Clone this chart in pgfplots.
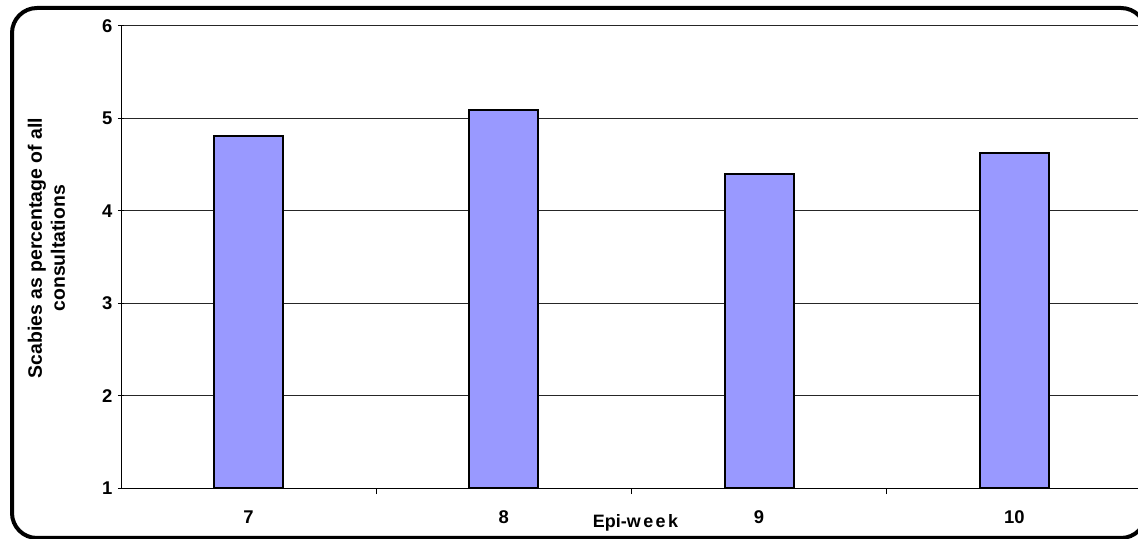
\documentclass[border=0pt]{standalone}
\usepackage{pgfplots}
\pgfplotsset{compat=1.18}
\usepackage{fontspec}
\setmainfont{Liberation Sans}
\definecolor{barblue}{HTML}{9999FF}

\begin{document}
\begin{tikzpicture}
% picture frame: 1138 x 539 px, 1 px = 1 bp
\clip (0bp,0bp) rectangle (1138bp,539bp);
\begin{axis}[
    at={(121bp,51bp)}, anchor=south west,
    scale only axis,
    width=1021bp, height=462bp,
    xmin=-0.5, xmax=3.5,
    ymin=1, ymax=6,
    ytick={1,2,3,4,5,6},
    xtick={0,1,2,3},
    xticklabels={7,8,9,10},
    minor xtick={0.5,1.5,2.5},
    major x tick style={draw=none},
    minor x tick style={black, line width=1bp},
    minor tick length=6bp,
    major tick length=6bp,
    tick align=outside,
    y tick style={black, line width=1bp},
    axis lines=left,
    axis line style={-, black, line width=1bp},
    ymajorgrids=true,
    grid style={black!85, line width=1bp},
    /pgf/number format/assume math mode=true,
    ticklabel style={font=\fontsize{18.5}{22}\selectfont\bfseries},
    yticklabel style={xshift=-2bp},
    xticklabel style={yshift=-13bp},
    ybar, bar width=69bp,
    xlabel={Epi-w\kern2.5bp e\kern2.5bp e\kern2.5bp k},
    xlabel style={font=\fontsize{18}{22}\selectfont\bfseries,
        at={(axis description cs:0.504,-0.076)}, anchor=center},
    ylabel={Scabies as percentage of all\\consultations},
    ylabel style={font=\fontsize{19.5}{23}\selectfont\bfseries, align=center,
        at={(axis description cs:-0.073,0.519)}, anchor=center},
]
\addplot[fill=barblue, draw=black, line width=2bp]
    coordinates {(0,4.81) (1,5.09) (2,4.40) (3,4.63)};
\end{axis}
\draw[line width=4bp, rounded corners=25bp] (12bp,531bp) rectangle (1146bp,1bp);
\end{tikzpicture}
\end{document}
